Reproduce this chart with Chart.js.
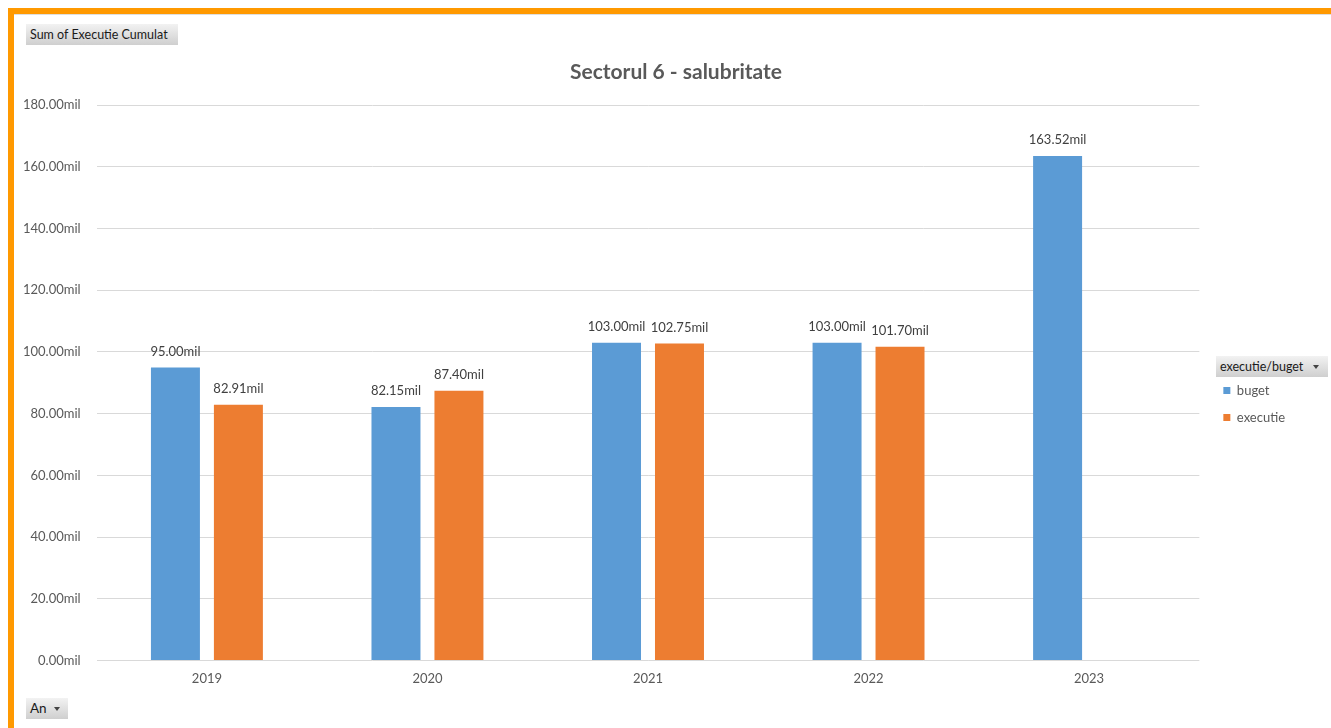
<!DOCTYPE html>
<html>
<head>
<meta charset="utf-8">
<script src="https://cdn.jsdelivr.net/npm/chart.js@4/dist/chart.umd.min.js"></script>
<style>
  html, body { margin:0; padding:0; background:#fff; }
  body { width:1331px; height:728px; position:relative; overflow:hidden; font-family: Lato, sans-serif; }
  #topBar { position:absolute; left:8px; top:8px; width:1323px; height:6px; background:#FF9900; }
  #topLine { position:absolute; left:14px; top:14px; width:1317px; height:1px; background:#dedede; }
  #leftBar { position:absolute; left:8px; top:8px; width:6px; height:720px; background:#FF9900; }
  #wrap { position:absolute; left:0; top:0; width:1331px; height:728px; }
  .btn { position:absolute; background:linear-gradient(#f2f2f2,#cfcfcf); color:#1a1a1a; font-size:12.5px; line-height:21px; padding-left:4px; box-sizing:border-box; }
  .arrow { position:absolute; width:0; height:0; border-left:3.5px solid transparent; border-right:3.5px solid transparent; border-top:4px solid #444; top:9px; }
</style>
</head>
<body>
<div id="topBar"></div>
<div id="leftBar"></div>
<div id="topLine"></div>
<div class="btn" style="left:26px;top:24px;width:152px;height:21px;">Sum of Executie Cumulat</div>
<div class="btn" style="left:1216px;top:356px;width:112px;height:21px;">executie/buget<span class="arrow" style="left:97px;"></span></div>
<div class="btn" style="left:26px;top:698px;width:42px;height:21px;font-size:13.5px;">An<span class="arrow" style="left:28px;"></span></div>
<div id="wrap"><canvas id="c"></canvas></div>
<script>
const categories = ['2019', '2020', '2021', '2022', '2023'];
const bugetValues = [95.00, 82.15, 103.00, 103.00, 163.52];
const executieValues = [82.91, 87.40, 102.75, 101.70, null];
const seriesNames = ['buget', 'executie'];
const seriesColors = ['#5B9BD5', '#ED7D31'];
const chartTitle = 'Sectorul 6 - salubritate';
const yMin = 0, yMax = 180, yStep = 20;

const fmt = v => v.toFixed(2) + 'mil';

const dataLabels = {
  id: 'dataLabels',
  afterDatasetsDraw(chart) {
    const ctx = chart.ctx;
    ctx.save();
    ctx.font = '13px Lato';
    ctx.fillStyle = '#404040';
    ctx.textAlign = 'center';
    ctx.textBaseline = 'middle';
    chart.data.datasets.forEach((ds, i) => {
      const meta = chart.getDatasetMeta(i);
      meta.data.forEach((el, j) => {
        const v = ds.data[j];
        if (v === null || v === undefined) return;
        ctx.fillText(fmt(v), el.x, el.y - 16);
      });
    });
    ctx.restore();
  }
};

// move the legend block next to the "executie/buget" field button, and centre the title like the source
const boxOffsets = {
  id: 'boxOffsets',
  afterLayout(chart) {
    const lg = chart.legend;
    if (lg) {
      const dx = 10, dy = 59;
      lg.left += dx; lg.right += dx;
      lg.top += dy; lg.bottom += dy;
    }
    const tt = chart.titleBlock;
    if (tt) {
      const tx = 30;
      tt.left += tx; tt.right += tx;
    }
  }
};

Chart.defaults.font.family = 'Lato';
Chart.defaults.color = '#595959';

new Chart(document.getElementById('c'), {
  type: 'bar',
  data: {
    labels: categories,
    datasets: [
      { label: seriesNames[0], data: bugetValues, backgroundColor: seriesColors[0] },
      { label: seriesNames[1], data: executieValues, backgroundColor: seriesColors[1] }
    ]
  },
  options: {
    responsive: true,
    maintainAspectRatio: false,
    animation: false,
    categoryPercentage: 0.571,
    barPercentage: 0.778,
    layout: { padding: { left: 7, right: 46, top: 0, bottom: 38 } },
    plugins: {
      title: {
        display: true, text: chartTitle, color: '#595959',
        font: { size: 21, weight: 'bold', family: 'Lato' },
        padding: { top: 60, bottom: 20 }
      },
      legend: {
        display: true, position: 'right', align: 'center',
        labels: { boxWidth: 7, boxHeight: 7, padding: 14, color: '#595959', font: { size: 13 } }
      },
      tooltip: { enabled: false }
    },
    scales: {
      x: {
        grid: { display: false },
        border: { display: false },
        ticks: { padding: 3, color: '#595959', font: { size: 13 } }
      },
      y: {
        min: yMin, max: yMax,
        grid: { color: '#d9d9d9', drawTicks: false, lineWidth: 1 },
        border: { display: false },
        ticks: { stepSize: yStep, padding: 16, color: '#595959', font: { size: 13 }, callback: v => fmt(v) }
      }
    }
  },
  plugins: [dataLabels, boxOffsets]
});
</script>
</body>
</html>
